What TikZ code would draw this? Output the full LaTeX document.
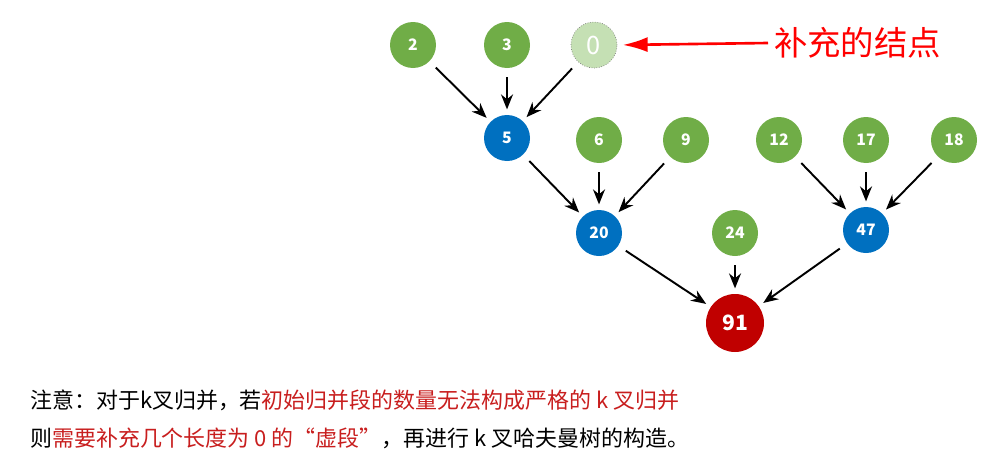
\documentclass[tikz,border=0pt]{standalone}
\usepackage{fontspec}
\setmainfont{Noto Sans CJK SC}
\usetikzlibrary{arrows.meta}
\definecolor{leafgreen}{RGB}{112,173,71}
\definecolor{padgreen}{RGB}{197,224,180}
\definecolor{midblue}{RGB}{0,112,192}
\definecolor{rootred}{RGB}{192,0,0}
\definecolor{notered}{RGB}{200,30,30}
\tikzset{
  leaf/.style={circle, fill=leafgreen, minimum size=9.2mm, inner sep=0pt, text=white, font=\small\bfseries},
  pad/.style={leaf, fill=padgreen, draw=gray, densely dotted, font=\Large},
  inner/.style={leaf, fill=midblue},
  root/.style={leaf, fill=rootred, minimum size=11.6mm, font=\large\bfseries},
  merge/.style={-{Stealth[length=3mm,width=2.4mm]}, line width=1.1pt, shorten >=3pt, shorten <=5pt}
}
\begin{document}
\begin{tikzpicture}[x=0.02cm, y=-0.02cm]
  \useasboundingbox (0,0) rectangle (994,464);
  \node (n2) [leaf] at (413,45) {2};
  \node (n3) [leaf] at (507,45) {3};
  \node (n0) [pad] at (594,45) {0};

  \node (n5) [inner] at (507,138) {5};
  \node (n6) [leaf] at (599,140) {6};
  \node (n9) [leaf] at (686,140) {9};
  \node (n12) [leaf] at (779,140) {12};
  \node (n17) [leaf] at (866,140) {17};
  \node (n18) [leaf] at (954,140) {18};

  \node (n20) [inner] at (599,233) {20};
  \node (n24) [leaf] at (735,233) {24};
  \node (n47) [inner] at (866,230) {47};

  \node (n91) [root] at (735,323) {91};

  \node (note) [text=red, font=\fontsize{19}{22}\selectfont, anchor=west] at (768,43) {补充的结点};
  \draw [-{Latex[length=5mm,width=3mm]}, red, line width=1.5pt, shorten >=3pt] (note.west) -- (n0.east);

  \path [every edge/.style={draw, merge}]
  (n2) edge (n5)
  (n3) edge (n5)
  (n0) edge (n5)
  (n5) edge (n20)
  (n6) edge (n20)
  (n9) edge (n20)
  (n12) edge (n47)
  (n17) edge (n47)
  (n18) edge (n47)
  (n20) edge (n91)
  (n24) edge (n91)
  (n47) edge (n91);

  \node (line1) [anchor=west, font=\fontsize{12.5}{15}\selectfont] at (24,400)
    {注意：对于k叉归并，若\textcolor{notered}{初始归并段的数量无法构成严格的 k 叉归并}};
  \node (line2) [anchor=west, font=\fontsize{12.5}{15}\selectfont] at (24,438)
    {则\textcolor{notered}{需要补充几个长度为 0 的“虚段”}，再进行 k 叉哈夫曼树的构造。};
\end{tikzpicture}
\end{document}
